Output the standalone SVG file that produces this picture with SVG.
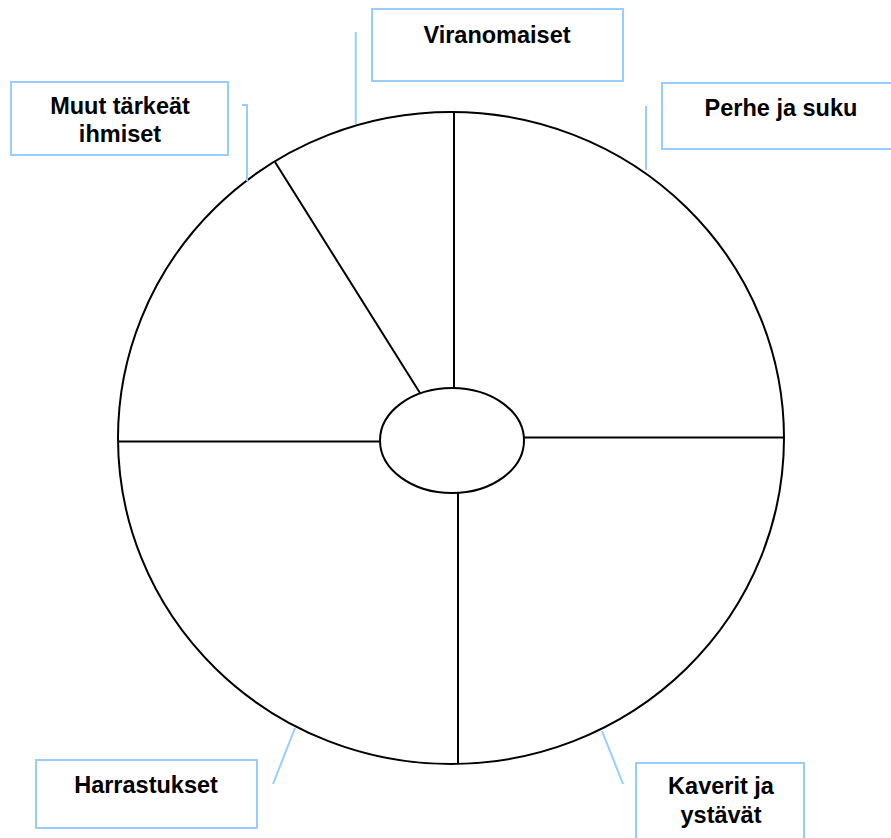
<svg xmlns="http://www.w3.org/2000/svg" width="891" height="838" viewBox="0 0 891 838">
<style>
.box{fill:#fff;stroke:#99ccff;stroke-width:2}
.lbl{font-family:"Liberation Sans",Arial,sans-serif;font-weight:bold;font-size:23.5px;fill:#000;text-anchor:middle}
.call{fill:none;stroke:#99ccff;stroke-width:2}
.ln{fill:none;stroke:#000;stroke-width:2}
</style>
<rect width="891" height="838" fill="#fff"/>
<g id="wheel">
<ellipse class="ln" cx="451" cy="438" rx="333" ry="326"/>
<line class="ln" x1="454" y1="112" x2="454" y2="388"/>
<line class="ln" x1="275" y1="162" x2="420" y2="393"/>
<line class="ln" x1="119" y1="441.5" x2="380" y2="441.5"/>
<line class="ln" x1="524" y1="437.5" x2="783" y2="437.5"/>
<line class="ln" x1="458" y1="493" x2="458" y2="763"/>
</g>
<g id="center">
<ellipse class="ln" cx="452" cy="440.5" rx="72" ry="52.5" fill="#fff"/>
</g>
<g id="connectors">
<polyline class="call" points="242,105 247,105 247,181"/>
<line class="call" x1="355.7" y1="32" x2="355.7" y2="124"/>
<line class="call" x1="646" y1="106" x2="646" y2="170"/>
<line class="call" x1="273" y1="784" x2="295" y2="728"/>
<line class="call" x1="602" y1="731" x2="623" y2="784"/>
</g>
<g id="muut">
<rect class="box" x="11" y="82" width="217" height="73"/>
<text class="lbl" x="120" y="114">Muut tärkeät</text>
<text class="lbl" x="120" y="142">ihmiset</text>
</g>
<g id="viranomaiset">
<rect class="box" x="372" y="9" width="251" height="72"/>
<text class="lbl" x="497" y="43">Viranomaiset</text>
</g>
<g id="perhe">
<rect class="box" x="662" y="83" width="240" height="66"/>
<text class="lbl" x="781" y="116">Perhe ja suku</text>
</g>
<g id="harrastukset">
<rect class="box" x="36" y="760" width="221" height="68"/>
<text class="lbl" x="146" y="793">Harrastukset</text>
</g>
<g id="kaverit">
<rect class="box" x="636" y="763" width="168" height="80"/>
<text class="lbl" x="721" y="794">Kaverit ja</text>
<text class="lbl" x="721" y="823">ystävät</text>
</g>
</svg>
